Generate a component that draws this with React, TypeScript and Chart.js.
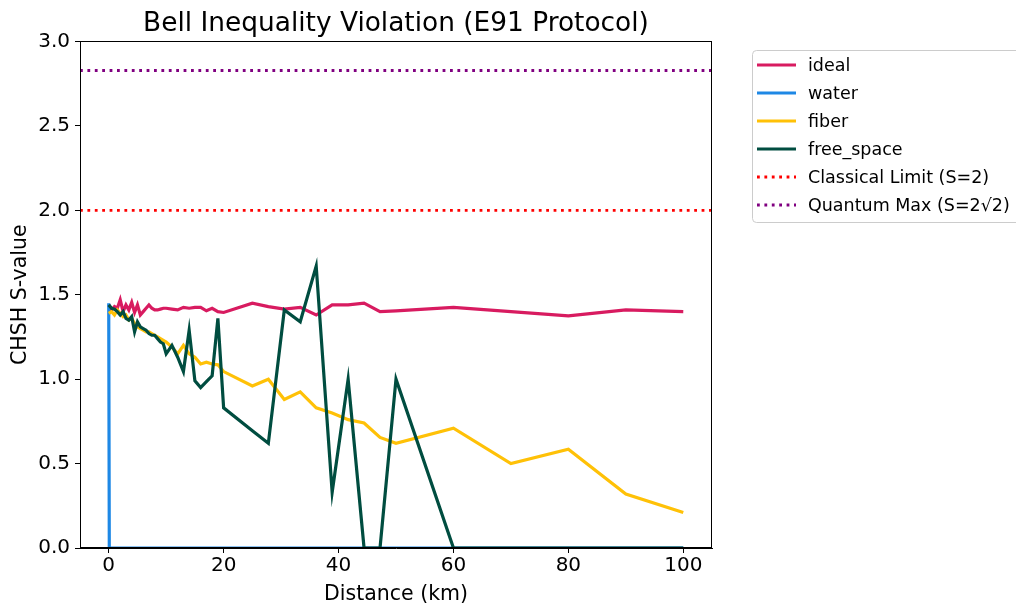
import React, { useEffect, useRef } from "react";
import { Chart, registerables } from "chart.js";

Chart.register(...registerables);

// ---- data ----
const distanceKm = [
  0, 0.5, 1, 1.5, 2, 2.5, 3, 3.5, 4, 4.5, 5, 5.5, 6, 6.5, 7, 7.5, 8, 8.5, 9, 9.5, 10,
  11, 12, 13, 14, 15, 16, 17, 18, 19, 20,
  25, 27.78, 30.56, 33.33, 36.11, 38.89, 41.67, 44.44, 47.22, 50,
  60, 70, 80, 90, 100,
];

const idealS = [
  1.44, 1.41, 1.43, 1.42, 1.47, 1.4, 1.44, 1.41, 1.455, 1.395, 1.44, 1.38, 1.4, 1.42, 1.44, 1.42, 1.41, 1.41, 1.415, 1.42, 1.42,
  1.415, 1.41, 1.425, 1.42, 1.425, 1.425, 1.405, 1.42, 1.4, 1.395,
  1.45, 1.43, 1.415, 1.425, 1.38, 1.44, 1.44, 1.45, 1.4, 1.405,
  1.425, 1.4, 1.375, 1.41, 1.4,
];

const fiberS = [
  1.39, 1.4, 1.38, 1.41, 1.39, 1.37, 1.38, 1.35, 1.36, 1.33, 1.31, 1.3, 1.29, 1.28, 1.28, 1.27, 1.26, 1.25, 1.24, 1.23, 1.22,
  1.19, 1.15, 1.2, 1.15, 1.13, 1.09, 1.1, 1.09, 1.085, 1.045,
  0.96, 1.0, 0.88, 0.925, 0.83, 0.8, 0.76, 0.74, 0.655, 0.62,
  0.71, 0.5, 0.585, 0.32, 0.21,
];

const freeSpaceS = [
  1.44, 1.42, 1.415, 1.4, 1.38, 1.4, 1.36, 1.35, 1.37, 1.28, 1.34, 1.31, 1.3, 1.29, 1.27, 1.26, 1.26, 1.24, 1.22, 1.21, 1.15,
  1.2, 1.13, 1.045, 1.29, 0.99, 0.95, 0.985, 1.02, 1.36, 0.83,
  0.695, 0.62, 1.41, 1.34, 1.67, 0.33, 1.0, 0, 0, 1.0,
  0, 0, 0, 0, 0,
];

const waterDistanceKm = [0, 0.1, 100];
const waterS = [1.45, 0, 0];

const classicalLimit = 2;
const quantumMax = 2.828;

const xTickValues = [0, 20, 40, 60, 80, 100];
const yTickValues = [0, 0.5, 1, 1.5, 2, 2.5, 3];
const xRange = [-5, 105];
const yRange = [0, 3];

const FONT = "DejaVu Sans";

function pts(xs: number[], ys: number[]) {
  return xs.map((x, i) => ({ x, y: ys[i] }));
}

export default function App() {
  const ref = useRef<HTMLCanvasElement>(null);

  useEffect(() => {
    const canvas = ref.current!;
    const dotted = [2.8, 4.6];

    const framePlugin = {
      id: "frame",
      afterDraw(chart: any) {
        const { ctx, chartArea } = chart;
        ctx.save();
        ctx.strokeStyle = "#000";
        ctx.lineWidth = 1;
        const l = Math.round(chartArea.left) + 0.5;
        const r = Math.round(chartArea.right) - 0.5;
        const t = Math.round(chartArea.top) + 0.5;
        const b = Math.round(chartArea.bottom) - 0.5;
        ctx.strokeRect(l, t, r - l, b - t);
        ctx.restore();
      },
    };

    const legendPlugin = {
      id: "mplLegend",
      afterDraw(chart: any) {
        const ctx = chart.ctx;
        ctx.save();
        const bx = 752.5, by = 50.5, bw = 280, bh = 172, rad = 4;
        ctx.beginPath();
        ctx.moveTo(bx + rad, by);
        ctx.lineTo(bx + bw - rad, by);
        ctx.arcTo(bx + bw, by, bx + bw, by + rad, rad);
        ctx.lineTo(bx + bw, by + bh - rad);
        ctx.arcTo(bx + bw, by + bh, bx + bw - rad, by + bh, rad);
        ctx.lineTo(bx + rad, by + bh);
        ctx.arcTo(bx, by + bh, bx, by + bh - rad, rad);
        ctx.lineTo(bx, by + rad);
        ctx.arcTo(bx, by, bx + rad, by, rad);
        ctx.closePath();
        ctx.fillStyle = "rgba(255,255,255,0.85)";
        ctx.fill();
        ctx.strokeStyle = "#cccccc";
        ctx.lineWidth = 1;
        ctx.stroke();
        chart.data.datasets.forEach((ds: any, i: number) => {
          const cy = 65 + 28 * i;
          ctx.beginPath();
          ctx.setLineDash(ds.borderDash || []);
          ctx.lineCap = "butt";
          ctx.lineWidth = ds.borderWidth;
          ctx.strokeStyle = ds.borderColor;
          ctx.moveTo(757, cy);
          ctx.lineTo(796, cy);
          ctx.stroke();
          ctx.setLineDash([]);
          ctx.fillStyle = "#000";
          ctx.font = `17.5px "${FONT}"`;
          ctx.textBaseline = "middle";
          ctx.textAlign = "left";
          ctx.fillText(ds.label, 808, cy + 1);
        });
        ctx.restore();
      },
    };

    const lineDs = (label: string, data: any[], color: string, order: number, dash: number[] = []) => ({
      label,
      data,
      borderColor: color,
      backgroundColor: color,
      borderWidth: dash.length ? 2.8 : 3.2,
      borderDash: dash,
      borderCapStyle: "butt",
      pointRadius: 0,
      tension: 0,
      fill: false,
      order,
      clip: 0,
    });

    const chart = new Chart(canvas, {
      type: "line",
      data: {
        datasets: [
          lineDs("ideal", pts(distanceKm, idealS), "#D81B60", 5),
          lineDs("water", pts(waterDistanceKm, waterS), "#1E88E5", 4),
          lineDs("fiber", pts(distanceKm, fiberS), "#FFC107", 3),
          lineDs("free_space", pts(distanceKm, freeSpaceS), "#004D40", 2),
          lineDs(
            "Classical Limit (S=2)",
            pts(xRange, [classicalLimit, classicalLimit]),
            "#ff0000",
            1,
            dotted
          ),
          lineDs(
            "Quantum Max (S=2√2)",
            pts(xRange, [quantumMax, quantumMax]),
            "#800080",
            0,
            dotted
          ),
        ] as any,
      },
      options: {
        responsive: false,
        animation: false,
        layout: { padding: { left: 0, right: 304, top: 0, bottom: 0 } },
        plugins: {
          legend: { display: false },
          tooltip: { enabled: false },
          title: {
            display: true,
            text: "Bell Inequality Violation (E91 Protocol)",
            fullSize: false,
            color: "#000",
            font: { family: FONT, size: 26.4, weight: "normal", lineHeight: 1.2 },
            padding: { top: 8.5, bottom: 1.3 },
          },
        },
        scales: {
          x: {
            type: "linear",
            min: xRange[0],
            max: xRange[1],
            afterBuildTicks: (s: any) => {
              s.ticks = xTickValues.map((v) => ({ value: v }));
            },
            afterFit: (s: any) => {
              s.height = 62;
            },
            ticks: {
              color: "#000",
              padding: 1,
              maxRotation: 0,
              autoSkip: false,
              font: { family: FONT, size: 20 },
              callback: (v: any) => String(v),
            },
            grid: { display: true, drawOnChartArea: false, drawTicks: true, tickLength: 5, color: "#000", lineWidth: 1 },
            border: { display: true, color: "#000", width: 1 },
            title: {
              display: true,
              text: "Distance (km)",
              color: "#000",
              font: { family: FONT, size: 20.5, lineHeight: 1.2 },
              padding: { top: 0, bottom: 2.7 },
            },
          },
          y: {
            type: "linear",
            min: yRange[0],
            max: yRange[1],
            afterBuildTicks: (s: any) => {
              s.ticks = yTickValues.map((v) => ({ value: v }));
            },
            afterFit: (s: any) => {
              s.width = 80;
            },
            ticks: {
              color: "#000",
              padding: 5,
              autoSkip: false,
              font: { family: FONT, size: 20 },
              callback: (v: any) => Number(v).toFixed(1),
            },
            grid: { display: true, drawOnChartArea: false, drawTicks: true, tickLength: 5, color: "#000", lineWidth: 1 },
            border: { display: true, color: "#000", width: 1 },
            title: {
              display: true,
              text: "CHSH S-value",
              color: "#000",
              font: { family: FONT, size: 20.5, lineHeight: 1.2 },
              padding: { top: 8, bottom: 0 },
            },
          },
        },
      } as any,
      plugins: [framePlugin, legendPlugin],
    });

    return () => chart.destroy();
  }, []);

  return (
    <div style={{ position: "fixed", left: 0, top: 0, width: 1016, height: 610, background: "#fff" }}>
      <canvas ref={ref} width={1016} height={610} style={{ display: "block" }} />
    </div>
  );
}
